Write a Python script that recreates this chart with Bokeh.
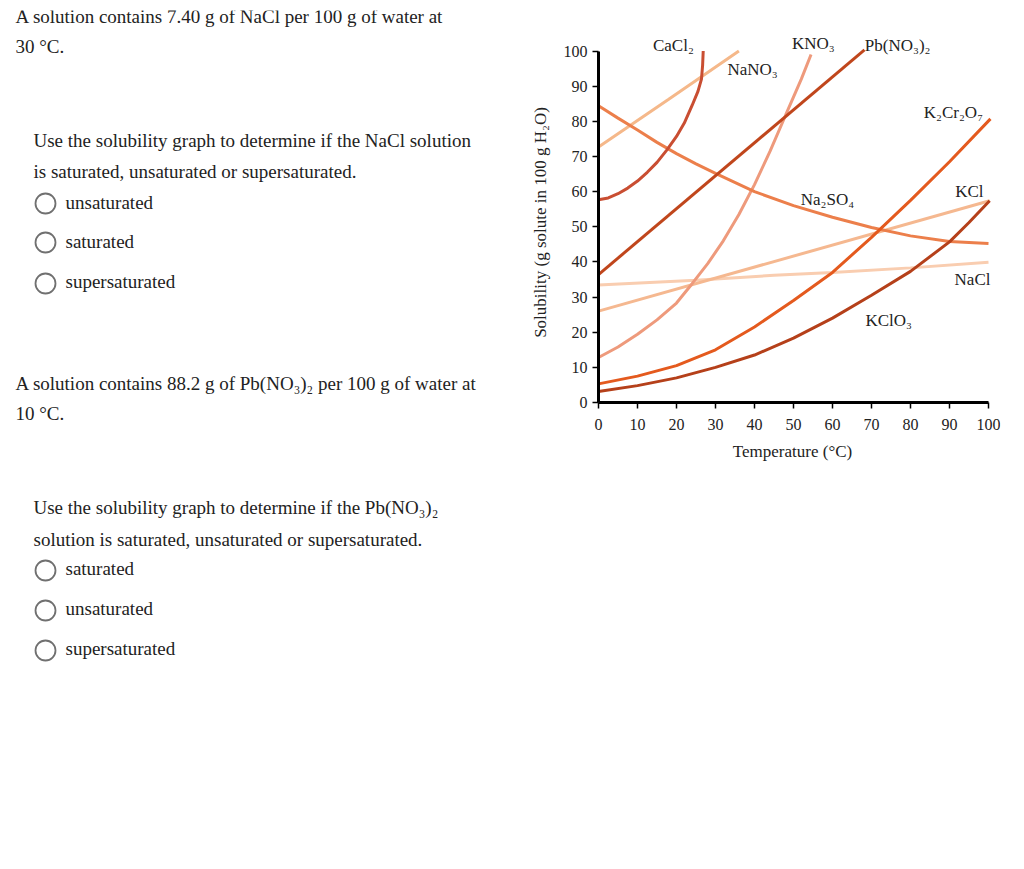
import math
from bokeh.plotting import figure
from bokeh.layouts import row
from bokeh.models import Range1d, FixedTicker
from bokeh.core.properties import value
from bokeh.embed import file_html
from bokeh.resources import INLINE

SERIF = "Liberation Serif"
INK = "#222222"

# ---------------- chart data (temperature °C, solubility g / 100 g H2O) ----------------
cacl2_t = [0, 2.5, 5, 7.5, 10, 12.5, 15, 17.5, 20, 22, 24, 25.5, 26.4, 26.7, 26.85]
cacl2_s = [57.7, 58.2, 59.4, 61, 63, 65.5, 68.3, 71.8, 75.7, 79.5, 84.5, 88.5, 92, 96, 100]

nano3_t = [0, 18, 36]
nano3_s = [72.7, 86.3, 100]

na2so4_t = [0, 5, 10, 15, 20, 25, 30, 40, 50, 60, 70, 80, 90, 100]
na2so4_s = [84.4, 80.9, 77.5, 74, 70.8, 67.9, 65.2, 60, 56, 52.7, 49.8, 47.4, 45.8, 45.2]

kno3_t = [0, 5, 10, 15, 20, 24, 28, 32, 36, 40, 44, 48, 52, 54.5]
kno3_s = [12.8, 15.8, 19.4, 23.5, 28.3, 33.8, 39.5, 46, 53.5, 62, 71.5, 81.8, 92, 99]

pbno32_t = [0, 68.2]
pbno32_s = [36.4, 100.3]

k2cr2o7_t = [0, 10, 20, 30, 40, 50, 60, 70, 80, 90, 100.5]
k2cr2o7_s = [5.3, 7.5, 10.5, 15, 21.5, 29, 37, 47, 57.5, 68.5, 80.7]

kcl_t = [0, 100.3]
kcl_s = [26, 57.4]

nacl_t = [0, 25, 45, 60, 80, 100]
nacl_s = [33.4, 34.8, 36.2, 37, 38.3, 39.9]

kclo3_t = [0, 10, 20, 30, 40, 50, 60, 70, 80, 90, 95, 100.3]
kclo3_s = [3.1, 4.8, 7, 10, 13.5, 18.3, 24, 30.5, 37.3, 45.7, 51.2, 57.4]

series = [
    ("NaCl", nacl_t, nacl_s, "#f9cdb0"),
    ("KCl", kcl_t, kcl_s, "#f5b890"),
    ("NaNO3", nano3_t, nano3_s, "#f5b88a"),
    ("KNO3", kno3_t, kno3_s, "#ee9a7c"),
    ("Na2SO4", na2so4_t, na2so4_s, "#ec7f4b"),
    ("K2Cr2O7", k2cr2o7_t, k2cr2o7_s, "#e45a1e"),
    ("CaCl2", cacl2_t, cacl2_s, "#c94e32"),
    ("KClO3", kclo3_t, kclo3_s, "#b5401a"),
    ("Pb(NO3)2", pbno32_t, pbno32_s, "#c0461c"),
]

curve_labels = ["CaCl₂", "NaNO₃", "KNO₃", "Pb(NO₃)₂", "K₂Cr₂O₇", "KCl", "Na₂SO₄", "NaCl", "KClO₃"]
label_t = [19.2, 39.5, 55.1, 76.7, 91.0, 95.1, 58.7, 95.9, 74.4]
label_s = [101.6, 94.7, 102.1, 101.6, 82.5, 60.0, 57.8, 35.0, 23.3]

x_ticks = list(range(0, 101, 10))
y_ticks = list(range(0, 101, 10))
x_title = "Temperature (°C)"
y_title = "Solubility (g solute in 100 g H₂O)"

# ---------------- quiz text ----------------
quiz_x = [15, 15, 33, 33, 65, 65, 65,
          15, 15, 33, 33, 65, 65, 65]
quiz_y = [16, 45.5, 139.5, 171, 201.5, 241, 280.5,
          383, 412.5, 507, 539, 568, 608, 648]
quiz_text = [
    "A solution contains 7.40 g of NaCl per 100 g of water at",
    "30 °C.",
    "Use the solubility graph to determine if the NaCl solution",
    "is saturated, unsaturated or supersaturated.",
    "unsaturated",
    "saturated",
    "supersaturated",
    "A solution contains 88.2 g of Pb(NO₃)₂ per 100 g of water at",
    "10 °C.",
    "Use the solubility graph to determine if the Pb(NO₃)₂",
    "solution is saturated, unsaturated or supersaturated.",
    "saturated",
    "unsaturated",
    "supersaturated",
]
radio_y = [203, 242, 283, 570, 610, 650]

H = 869
TOP = 10          # both figures share the same frame top / bottom borders
BOTTOM = 60
FRAME_BOTTOM = H - BOTTOM

# ---------------- left (text) figure ----------------
W_LEFT = 500
left = figure(width=W_LEFT, height=H, output_backend="svg", toolbar_location=None,
              x_range=Range1d(0, W_LEFT), y_range=Range1d(FRAME_BOTTOM, TOP),
              x_axis_type=None, y_axis_type=None,
              min_border_left=0, min_border_right=0,
              min_border_top=TOP, min_border_bottom=BOTTOM)
left.outline_line_color = None
left.background_fill_color = "white"
left.border_fill_color = "white"
left.grid.visible = False
left.text(x=quiz_x, y=quiz_y, text=quiz_text, text_font=value(SERIF),
          text_font_size="19px", text_color=INK, text_align="left",
          text_baseline="alphabetic")
left.scatter(x=[45] * len(radio_y), y=radio_y, size=20, marker="circle",
             fill_color="white", line_color="#707070", line_width=1.8)

# ---------------- chart figure ----------------
W_RIGHT = 1024 - W_LEFT
B_LEFT, B_RIGHT = 20, 24
PX_X = 3.9
X0_PX = 598.0                       # page x of T = 0
PX_Y = 3.515
Y0_PX = 402.0                       # page y of S = 0
frame_left_px = W_LEFT + B_LEFT
frame_w = W_RIGHT - B_LEFT - B_RIGHT
x_start = -(X0_PX - frame_left_px) / PX_X
x_end = x_start + frame_w / PX_X
y_top = (Y0_PX - TOP) / PX_Y
y_bot = -(FRAME_BOTTOM - Y0_PX) / PX_Y

p = figure(width=W_RIGHT, height=H, output_backend="svg", toolbar_location=None,
           x_range=Range1d(x_start, x_end), y_range=Range1d(y_bot, y_top),
           min_border_left=B_LEFT, min_border_right=B_RIGHT, min_border_top=TOP,
           min_border_bottom=BOTTOM)
p.outline_line_color = None
p.background_fill_color = "white"
p.border_fill_color = "white"
p.grid.visible = False

for name, t, s, col in series:
    p.line(t, s, line_color=col, line_width=3)

p.text(x=label_t, y=label_s, text=curve_labels, text_font=value(SERIF),
       text_font_size="17px", text_color=INK, text_align="center",
       text_baseline="middle")

for ax in (p.xaxis[0], p.yaxis[0]):
    ax.fixed_location = 0
    ax.bounds = (0, 100)
    ax.axis_line_width = 3
    ax.axis_line_color = "black"
    ax.major_tick_out = 6
    ax.major_tick_in = 0
    ax.major_tick_line_width = 1.5
    ax.major_tick_line_color = "black"
    ax.minor_tick_line_color = None
    ax.major_label_text_font = SERIF
    ax.major_label_text_font_size = "16px"
    ax.major_label_text_color = INK

p.xaxis[0].ticker = FixedTicker(ticks=x_ticks)
p.yaxis[0].ticker = FixedTicker(ticks=y_ticks)
p.xaxis[0].major_label_standoff = 10
p.yaxis[0].major_label_standoff = 5

# axis titles, placed beside the axes
p.text(x=[(792 - X0_PX) / PX_X], y=[-(451 - Y0_PX) / PX_Y], text=[x_title],
       text_font=value(SERIF), text_font_size="17px", text_color=INK,
       text_align="center", text_baseline="middle")
p.text(x=[(540 - X0_PX) / PX_X], y=[(Y0_PX - 222) / PX_Y], text=[y_title],
       angle=math.pi / 2, text_font=value(SERIF), text_font_size="17px",
       text_color=INK, text_align="center", text_baseline="middle")

layout = row(left, p)
open("out.html", "w").write(file_html(layout, INLINE))
